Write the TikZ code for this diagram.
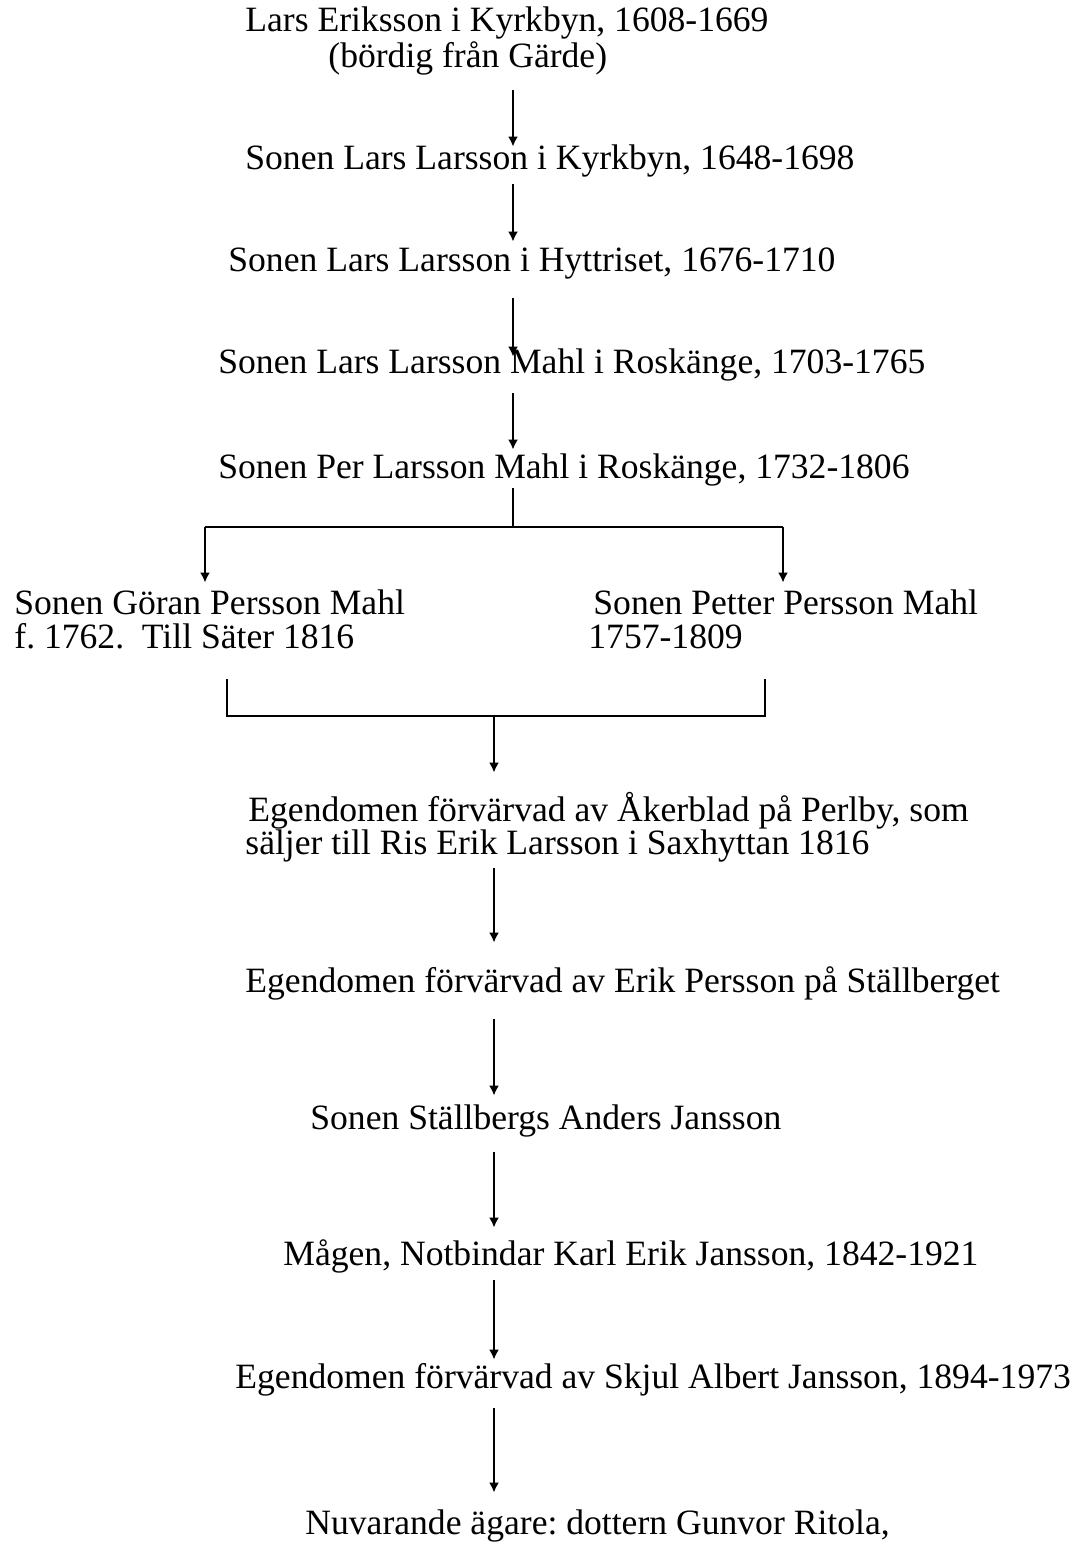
\documentclass[tikz,border=0pt]{standalone}
\usepackage{fontspec}
\setmainfont{Liberation Serif}
\usepackage{tikz}
\usetikzlibrary{arrows.meta}
\frenchspacing

\begin{document}
\begin{tikzpicture}[x=0.5pt,y=-0.5pt,
  txt/.style={anchor=base west,inner sep=0pt,text height=10pt,text depth=3pt,
              font=\fontsize{17.8}{19}\selectfont},
  arr/.style={-{Latex[length=5pt,width=5pt]},line width=1pt},
  bar/.style={line width=1.3pt}]
\useasboundingbox (0,0) rectangle (1082,1545);

\coordinate (spine) at (513,0);
\coordinate (fork)  at (513,527);
\coordinate (forkL) at (205,527);
\coordinate (forkR) at (783,527);
\coordinate (joinL) at (227,679);
\coordinate (joinR) at (765,679);
\coordinate (join)  at (494,716);

\node[txt] (lars)    at (245,32)   {Lars Eriksson i Kyrkbyn, 1608-1669};
\node[txt] (larsb)   at (328,68)   {(bördig från Gärde)};
\node[txt] (kyrk)    at (245,170)  {Sonen Lars Larsson i Kyrkbyn, 1648-1698};
\node[txt] (hytt)    at (228,272)  {Sonen Lars Larsson i Hyttriset, 1676-1710};
\node[txt] (mahl)    at (218,374)  {Sonen Lars Larsson Mahl i Roskänge, 1703-1765};
\node[txt] (per)     at (218,478)  {Sonen Per Larsson Mahl i Roskänge, 1732-1806};
\node[txt] (goran)   at (14,614)   {Sonen Göran Persson Mahl};
\node[txt] (goranb)  at (14,648)   {f. 1762.\ \ Till Säter 1816};
\node[txt] (petter)  at (593,614)  {Sonen Petter Persson Mahl};
\node[txt] (petterb) at (588,648)  {1757-1809};
\node[txt] (aker)    at (248,821)  {Egendomen förvärvad av Åkerblad på Perlby, som};
\node[txt] (akerb)   at (245,854)  {säljer till Ris Erik Larsson i Saxhyttan 1816};
\node[txt] (erik)    at (245,992)  {Egendomen förvärvad av Erik Persson på Ställberget};
\node[txt] (stall)   at (310,1129) {Sonen Ställbergs Anders Jansson};
\node[txt] (magen)   at (283,1265) {Mågen, Notbindar Karl Erik Jansson, 1842-1921};
\node[txt] (skjul)   at (235,1388) {Egendomen förvärvad av Skjul Albert Jansson, 1894-1973};
\node[txt] (nuv)     at (305,1534) {Nuvarande ägare: dottern Gunvor Ritola,};

% upper line of descent
\draw[arr,shorten <=8pt,shorten >=1.5pt]  (larsb.south -| spine) -- (kyrk.north -| spine);
\draw[arr,shorten <=4pt,shorten >=5pt]    (kyrk.south -| spine) -- (hytt.north -| spine);
\draw[arr,shorten <=10pt,shorten >=-1.5pt] (hytt.south -| spine) -- (mahl.north -| spine);
\draw[arr,shorten <=6.5pt,shorten >=4pt]  (mahl.south -| spine) -- (per.north -| spine);

% the two sons
\draw[line width=1pt,shorten <=2pt] (per.south -| fork) -- (fork);
\draw[bar] (forkL) -- (forkR);
\draw[arr,shorten >=5.5pt] (forkL) -- (goran.north -| forkL);
\draw[arr,shorten >=5.5pt] (forkR) -- (petter.north -| forkR);

% back together
\draw[bar] (joinL) -- (joinL |- join) -- (joinR |- join) -- (joinR);
\draw[arr,shorten >=14pt] (join) -- (aker.north -| join);

% lower line of owners
\draw[arr,shorten <=4pt,shorten >=14.5pt] (akerb.south -| join) -- (erik.north -| join);
\draw[arr,shorten <=10.5pt,shorten >=6.5pt] (erik.south -| join) -- (stall.north -| join);
\draw[arr,shorten <=8.5pt,shorten >=8.5pt]  (stall.south -| join) -- (magen.north -| join);
\draw[arr,shorten <=4.5pt,shorten >=4pt]    (magen.south -| join) -- (skjul.north -| join);
\draw[arr,shorten <=7pt,shorten >=10.5pt]   (skjul.south -| join) -- (nuv.north -| join);

\end{tikzpicture}
\end{document}
